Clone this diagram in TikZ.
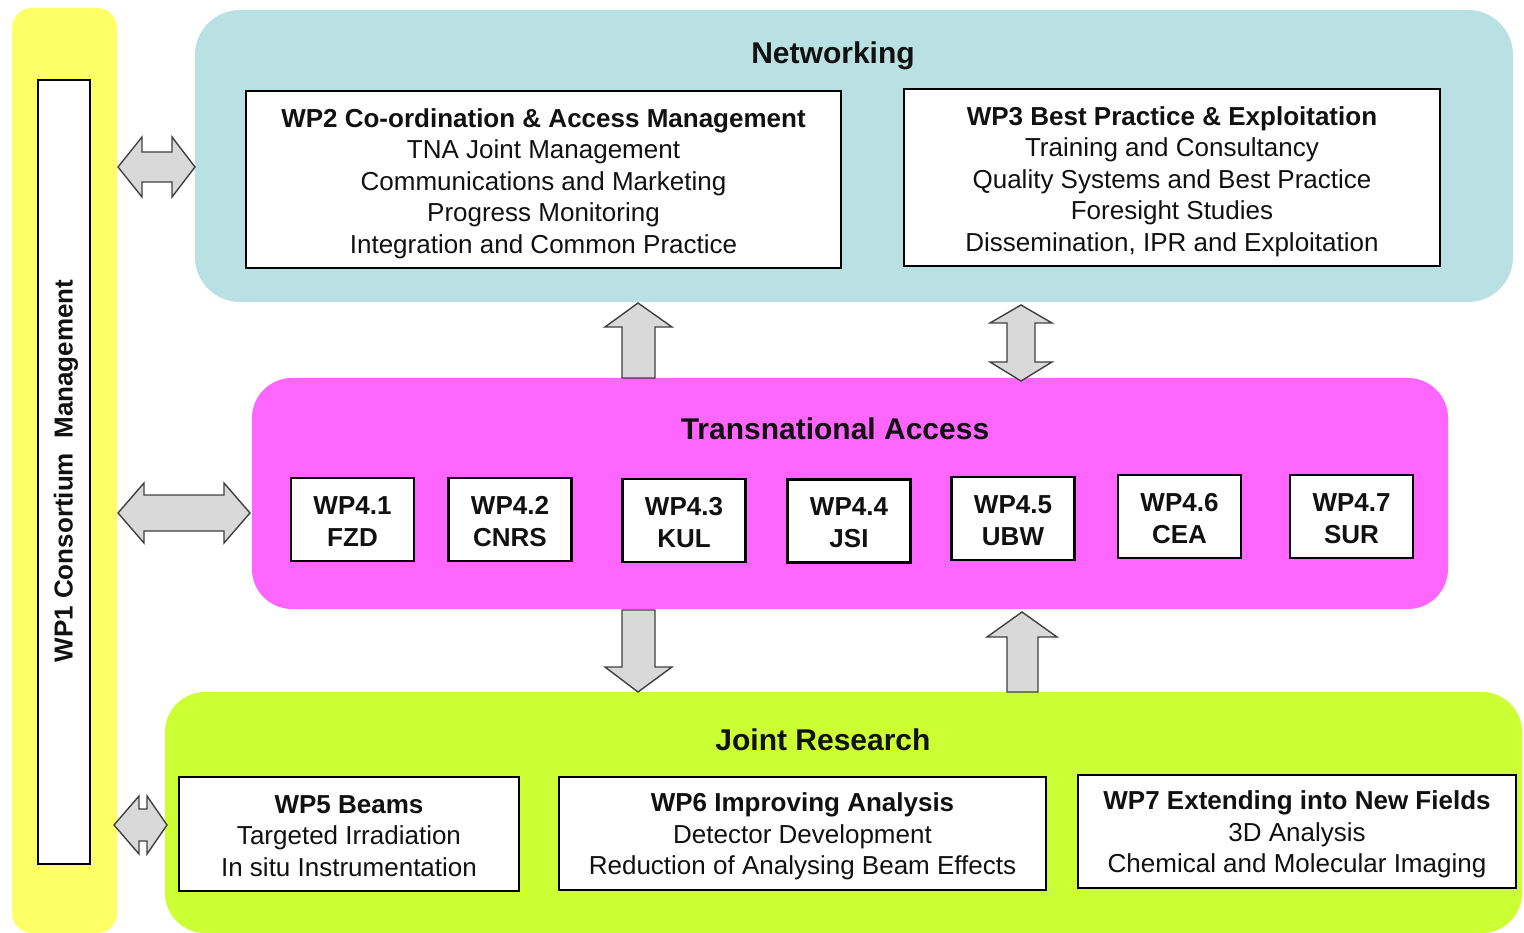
\documentclass[tikz,border=0pt]{standalone}
\usepackage{fontspec}
\setmainfont{Liberation Sans}
\definecolor{ylw}{HTML}{FFFF66}
\definecolor{cyn}{HTML}{B9E0E3}
\definecolor{mag}{HTML}{FF66FF}
\definecolor{grn}{HTML}{CCFF33}
\definecolor{arrfill}{HTML}{D9D9D9}
\definecolor{arrline}{HTML}{404040}
\definecolor{txt}{HTML}{111111}
\begin{document}
\begin{tikzpicture}[x=1pt,y=-1pt,
  panel/.style={inner sep=0pt, draw=none},
  wpbox/.style={draw=black, line width=2.6pt, fill=white, inner sep=0pt},
  boxtxt/.style={inner sep=0pt, align=center, text=txt, font=\fontsize{26pt}{31.5pt}\selectfont},
  ttl/.style={inner sep=0pt, text=txt, font=\fontsize{30pt}{36pt}\selectfont\bfseries},
  blockarrow/.style={fill=arrfill, draw=arrline, line width=1.4pt, line join=miter}]
\useasboundingbox (0,0) rectangle (1524,933);
\fill[white] (0,0) rectangle (1524,933);

% panels
\node[panel, fill=ylw, rounded corners=20pt, minimum width=105pt, minimum height=925pt] (ypan) at (64.5,470.5) {};
\node[panel, fill=cyn, rounded corners=45pt, minimum width=1318pt, minimum height=292pt] (net) at (854,156) {};
\node[panel, fill=mag, rounded corners=40pt, minimum width=1196pt, minimum height=231pt] (tna) at (850,493.5) {};
\node[panel, fill=grn, rounded corners=40pt, minimum width=1357pt, minimum height=241pt] (jra) at (843.5,812.5) {};

% titles
\node[ttl] (netT) at (833,56) {Networking};
\node[ttl] (tnaT) at (835,429) {Transnational Access};
\node[ttl] (jraT) at (823,740) {Joint Research};

% WP1
\node[wpbox, minimum width=52pt, minimum height=784pt] (wp1) at (64,472) {};
\node[rotate=90, inner sep=0pt, text=txt, font=\fontsize{26pt}{31.5pt}\selectfont\bfseries] (wp1T) at (66,471) {WP1 Consortium~~Management};

% Networking boxes
\node[wpbox, minimum width=595pt, minimum height=177pt] (wp2) at (543.5,179.5) {};
\node[boxtxt] (wp2T) at ([yshift=-4pt]wp2.center)
 {\textbf{WP2 Co-ordination \& Access Management}\\TNA Joint Management\\Communications and Marketing\\Progress Monitoring\\Integration and Common Practice};
\node[wpbox, minimum width=536pt, minimum height=177pt] (wp3) at (1172,177.5) {};
\node[boxtxt] (wp3T) at ([yshift=-4pt]wp3.center)
 {\textbf{WP3 Best Practice \& Exploitation}\\Training and Consultancy\\Quality Systems and Best Practice\\Foresight Studies\\Dissemination, IPR and Exploitation};

% TNA boxes
\tikzset{wp4/.style={wpbox, minimum width=123pt, minimum height=83pt},
  wp4txt/.style={boxtxt, font=\fontsize{26pt}{32pt}\selectfont\bfseries}}
\foreach \n/\x/\y/\a/\b in {41/352.5/519.5/WP4.1/FZD, 42/510/519.5/WP4.2/CNRS, 43/684/520.5/WP4.3/KUL,
  44/849/521/WP4.4/JSI, 45/1013/518.5/WP4.5/UBW, 46/1179.5/516.5/WP4.6/CEA, 47/1351.5/516.5/WP4.7/SUR}{
  \node[wp4] (wp\n) at (\x,\y) {};
  \node[wp4txt] (wp\n T) at ([yshift=-2pt]wp\n.center) {\a\\\b};
}

% JRA boxes
\node[wpbox, minimum width=340pt, minimum height=114pt] (wp5) at (349,834) {};
\node[boxtxt] (wp5T) at ([yshift=-2pt]wp5.center)
 {\textbf{WP5 Beams}\\Targeted Irradiation\\In situ Instrumentation};
\node[wpbox, minimum width=487pt, minimum height=113pt] (wp6) at (802.5,833.5) {};
\node[boxtxt] (wp6T) at ([yshift=-3pt]wp6.center)
 {\textbf{WP6 Improving Analysis}\\Detector Development\\Reduction of Analysing Beam Effects};
\node[wpbox, minimum width=438pt, minimum height=113pt] (wp7) at (1297,831.5) {};
\node[boxtxt] (wp7T) at ([yshift=-3pt]wp7.center)
 {\textbf{WP7 Extending into New Fields}\\3D Analysis\\Chemical and Molecular Imaging};

% block arrows: WP1 <-> panels
\draw[blockarrow] (118,167) -- (142,137) -- (142,152) -- (172,152) -- (172,137) -- (195,167)
  -- (172,197) -- (172,182) -- (142,182) -- (142,197) -- cycle;
\draw[blockarrow] (118,513) -- (144,483) -- (144,495) -- (224,495) -- (224,483) -- (250,513)
  -- (224,543) -- (224,531) -- (144,531) -- (144,543) -- cycle;
\draw[blockarrow] (114,825) -- (139,796) -- (139,809) -- (147,809) -- (147,796) -- (167,825)
  -- (147,854) -- (147,841) -- (139,841) -- (139,854) -- cycle;

% block arrows between panels
\draw[blockarrow] (638,303) -- (672,327) -- (655,327) -- (655,378) -- (622,378) -- (622,327) -- (605,327) -- cycle;
\draw[blockarrow] (1021,305) -- (1052,323) -- (1035,323) -- (1035,362) -- (1052,362) -- (1021,381)
  -- (990,362) -- (1007,362) -- (1007,323) -- (990,323) -- cycle;
\draw[blockarrow] (622,610) -- (655,610) -- (655,667) -- (672,667) -- (638,692) -- (605,667) -- (622,667) -- cycle;
\draw[blockarrow] (1022,612) -- (1057,637) -- (1038,637) -- (1038,692) -- (1007,692) -- (1007,637) -- (987,637) -- cycle;
\end{tikzpicture}
\end{document}
